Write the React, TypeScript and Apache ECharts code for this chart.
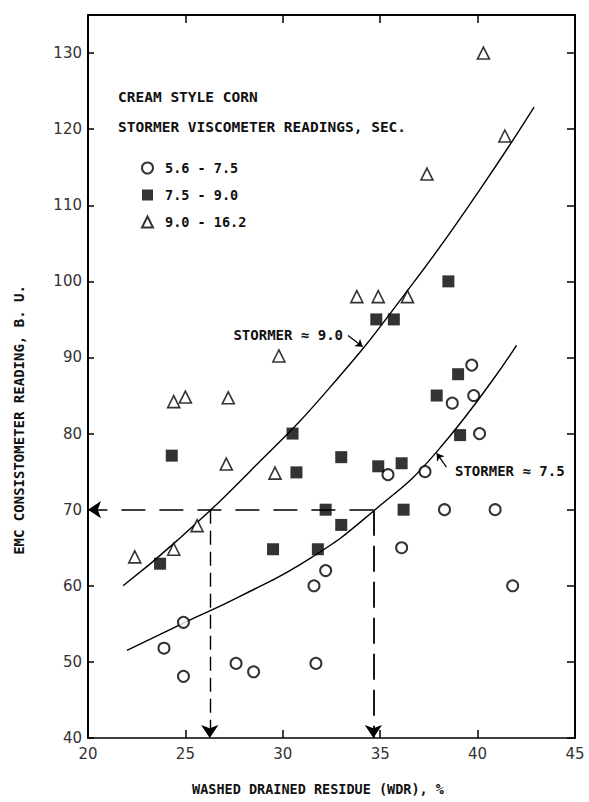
import React, { useEffect, useRef } from "react";
import * as echarts from "echarts";

// ---- data ----
const xTickValues = [20, 25, 30, 35, 40, 45];
const yTickValues = [40, 50, 60, 70, 80, 90, 100, 110, 120, 130];

const seriesNames = ["5.6 - 7.5", "7.5 - 9.0", "9.0 - 16.2"];

// Stormer 5.6 - 7.5 (open circles)
const lowStormer: [number, number][] = [
  [39.7, 89], [38.7, 84], [39.8, 85], [40.1, 80], [35.4, 74.6], [37.3, 75],
  [38.3, 70], [40.9, 70], [36.1, 65], [32.2, 62], [31.6, 60], [41.8, 60],
  [24.9, 55.2], [23.9, 51.8], [24.9, 48.1], [27.6, 49.8], [28.5, 48.7], [31.7, 49.8],
];

// Stormer 7.5 - 9.0 (filled squares)
const midStormer: [number, number][] = [
  [38.5, 100], [34.8, 95], [35.7, 95], [39.0, 87.8], [37.9, 85], [39.1, 79.8],
  [30.5, 80], [24.3, 77.1], [30.7, 74.9], [33.0, 76.9], [34.9, 75.7], [36.1, 76.1],
  [32.2, 70], [36.2, 70], [33.0, 68], [29.5, 64.8], [31.8, 64.8], [23.7, 62.9],
];

// Stormer 9.0 - 16.2 (open triangles)
const highStormer: [number, number][] = [
  [40.3, 130], [41.4, 119.1], [37.4, 114.1], [33.8, 98], [34.9, 98], [36.4, 98],
  [29.8, 90.2], [24.4, 84.2], [25.0, 84.8], [27.2, 84.7], [27.1, 76], [29.6, 74.8],
  [25.6, 67.9], [24.4, 64.8], [22.4, 63.8],
];

// fitted curves
const curve90X = [21.8, 24.6, 28.3, 32.4, 36.7, 40.1, 42.9];
const curve90Y = [60.0, 66.0, 75.0, 86.0, 99.8, 112.0, 122.9];
const curve75X = [22.0, 24.9, 27.8, 31.4, 34.6, 37.9, 42.0];
const curve75Y = [51.5, 55.1, 58.6, 63.6, 69.7, 77.6, 91.6];

// read-off guide: EMC 70 -> WDR
const guideEMC = 70;
const guideWDR = [26.25, 34.65];

// annotation leaders [from, to]
const leader90: [number, number][] = [[33.35, 92.9], [34.1, 91.4]];
const leader75: [number, number][] = [[38.4, 75.6], [37.9, 77.4]];

const FONT = "'DejaVu Sans Mono', 'Liberation Mono', monospace";
const NUMFONT = "'DejaVu Sans', 'Liberation Sans', sans-serif";

export default function App() {
  const ref = useRef<HTMLDivElement>(null);

  useEffect(() => {
    if (!ref.current) return;
    const chart = echarts.init(ref.current, undefined, { renderer: "svg" });

    const zip = (xs: number[], ys: number[]) => xs.map((x, i) => [x, ys[i]]);
    const xMin = xTickValues[0];
    const xMax = xTickValues[xTickValues.length - 1];
    const yMin = yTickValues[0];

    const axisLine = { show: true, lineStyle: { color: "#000", width: 2 } };
    const text = (t: string, x: number, y: number, size: number, align = "left", extra: any = {}) => ({
      type: "text",
      x,
      y,
      ...extra,
      style: {
        text: t,
        fill: "#111",
        font: `bold ${size}px ${FONT}`,
        textAlign: align,
        textVerticalAlign: "middle",
      },
    });

    const option: any = {
      animation: false,
      backgroundColor: "#fff",
      grid: { left: 88, right: 14, top: 15, bottom: 64, containLabel: false },
      xAxis: [
        {
          type: "value",
          min: xMin,
          max: xMax,
          interval: 5,
          position: "bottom",
          axisLine: { show: true, lineStyle: { color: "#000", width: 1.5 } },
          axisTick: { show: true, inside: true, length: 8, lineStyle: { color: "#000", width: 1.5 } },
          axisLabel: { color: "#333", fontFamily: NUMFONT, fontSize: 15, margin: 8 },
          splitLine: { show: false },
        },
        {
          type: "value",
          min: xMin,
          max: xMax,
          interval: 5,
          position: "top",
          axisLine,
          axisTick: { show: true, inside: true, length: 8, lineStyle: { color: "#000", width: 1.5 } },
          axisLabel: { show: false },
          splitLine: { show: false },
        },
      ],
      yAxis: [
        {
          type: "value",
          min: yMin,
          max: 135,
          interval: 10,
          position: "left",
          axisLine,
          axisTick: { show: true, inside: true, length: 6, lineStyle: { color: "#000", width: 1.5 } },
          axisLabel: {
            color: "#333",
            fontFamily: NUMFONT,
            fontSize: 15,
            margin: 6,
            formatter: (v: number) => (yTickValues.includes(v) ? String(v) : ""),
          },
          splitLine: { show: false },
        },
        {
          type: "value",
          min: yMin,
          max: 135,
          interval: 10,
          position: "right",
          axisLine,
          axisTick: { show: true, inside: true, length: 8, lineStyle: { color: "#000", width: 1.5 } },
          axisLabel: { show: false },
          splitLine: { show: false },
        },
      ],
      legend: {
        orient: "vertical",
        left: 136,
        top: 156,
        itemWidth: 11,
        itemHeight: 11,
        itemGap: 13,
        data: seriesNames,
        textStyle: {
          fontFamily: FONT,
          fontWeight: "bold",
          fontSize: 13.5,
          color: "#111",
          padding: [0, 0, 0, 7],
        },
      },
      series: [
        {
          name: "Stormer 9.0 curve",
          type: "line",
          data: zip(curve90X, curve90Y),
          smooth: 0.5,
          showSymbol: false,
          silent: true,
          lineStyle: { color: "#000", width: 1.4 },
          z: 2,
          markLine: {
            silent: true,
            symbol: ["none", "arrow"],
            symbolSize: 13,
            label: { show: false },
            lineStyle: { color: "#000", width: 1.6, type: [24, 14] },
            data: [
              [{ coord: [guideWDR[1], guideEMC] }, { coord: [xMin, guideEMC] }],
              [
                { coord: [guideWDR[0], guideEMC], lineStyle: { type: [14, 7], width: 1.4 } },
                { coord: [guideWDR[0], yMin] },
              ],
              [
                { coord: [guideWDR[1], guideEMC], lineStyle: { type: [26, 10], width: 1.8 } },
                { coord: [guideWDR[1], yMin] },
              ],
              [
                { coord: leader90[0], symbol: "none", lineStyle: { type: "solid", width: 1.2 } },
                { coord: leader90[1], symbol: "arrow", symbolSize: 7 },
              ],
              [
                { coord: leader75[0], symbol: "none", lineStyle: { type: "solid", width: 1.2 } },
                { coord: leader75[1], symbol: "arrow", symbolSize: 7 },
              ],
            ],
          },
        },
        {
          name: "Stormer 7.5 curve",
          type: "line",
          data: zip(curve75X, curve75Y),
          smooth: 0.5,
          showSymbol: false,
          silent: true,
          lineStyle: { color: "#000", width: 1.4 },
          z: 2,
        },
        {
          name: seriesNames[0],
          type: "scatter",
          data: lowStormer,
          symbol: "circle",
          symbolSize: 11,
          itemStyle: { color: "#fff", borderColor: "#000", borderWidth: 2 },
          z: 3,
        },
        {
          name: seriesNames[1],
          type: "scatter",
          data: midStormer,
          symbol: "rect",
          symbolSize: 12,
          itemStyle: { color: "#000", borderColor: "#000", borderWidth: 0 },
          z: 3,
        },
        {
          name: seriesNames[2],
          type: "scatter",
          data: highStormer,
          symbol: "triangle",
          symbolSize: 12,
          itemStyle: { color: "#fff", borderColor: "#000", borderWidth: 1.6 },
          z: 3,
        },
      ],
      graphic: [
        text("CREAM STYLE CORN", 118, 97, 14.5),
        text("STORMER VISCOMETER READINGS, SEC.", 118, 127, 14.5),
        text("STORMER ≈ 9.0", 343, 335, 14, "right"),
        text("STORMER ≈ 7.5", 455, 471, 14, "left"),
        text("WASHED DRAINED RESIDUE (WDR), %", 318, 789, 13.5, "center"),
        text("EMC CONSISTOMETER READING, B. U.", 19, 420, 14, "center", { rotation: Math.PI / 2 }),
      ],
    };

    chart.setOption(option);
    return () => chart.dispose();
  }, []);

  return (
    <div
      ref={ref}
      style={{ position: "fixed", left: 0, top: 0, width: 589, height: 802, background: "#fff" }}
    />
  );
}
